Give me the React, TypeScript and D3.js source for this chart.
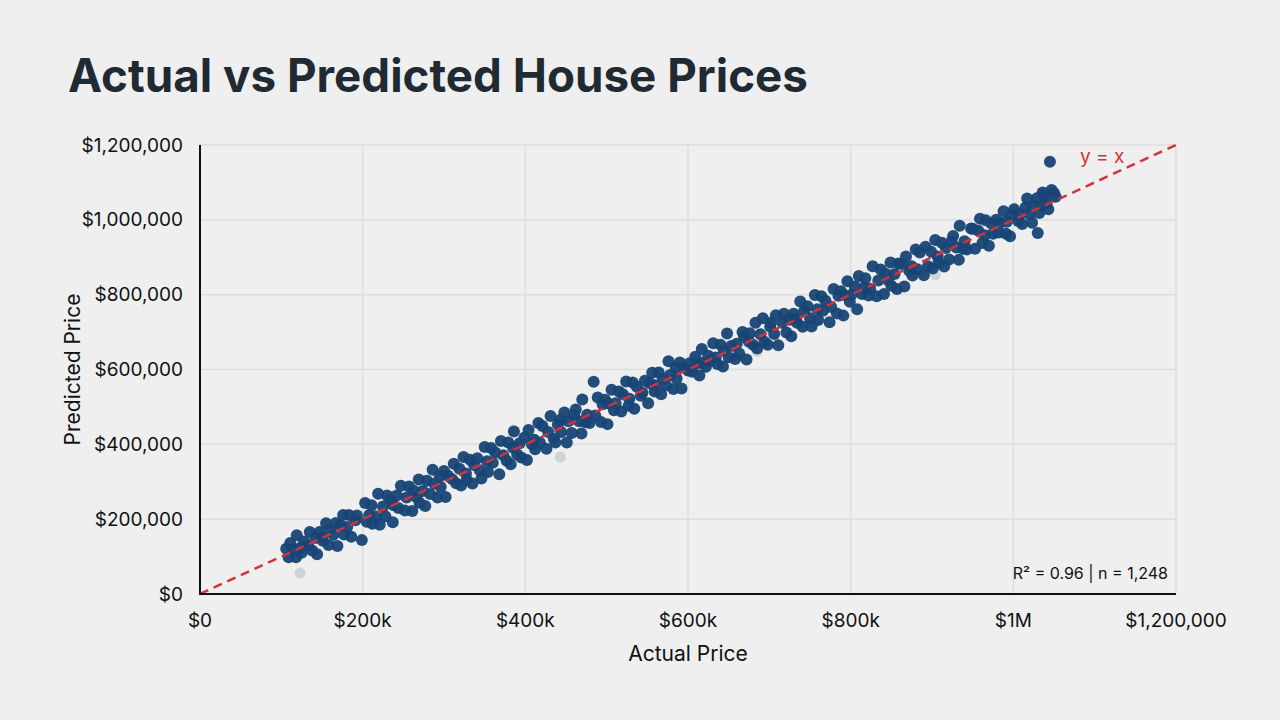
import * as d3 from "d3";

const W = 1280;
const H = 720;
const margin = { top: 145, right: 104, bottom: 126, left: 200 };

const xTicks = [0, 200000, 400000, 600000, 800000, 1000000, 1200000];
const xTickLabels = ["$0", "$200k", "$400k", "$600k", "$800k", "$1M", "$1,200,000"];
const yTicks = [0, 200000, 400000, 600000, 800000, 1000000, 1200000];
const yTickLabels = ["$0", "$200,000", "$400,000", "$600,000", "$800,000", "$1,000,000", "$1,200,000"];

// [actual, predicted] in $k
const houses1: [number, number][] = [
  [106, 121], [109, 98], [111, 136], [115, 120], [118, 98], [119, 157], [123, 123], [125, 110], [128, 140], [133, 129],
  [135, 166], [138, 116], [142, 150], [144, 106], [147, 166], [150, 152], [151, 142], [155, 189], [158, 131], [160, 174],
  [164, 158], [167, 190], [169, 128], [173, 183], [176, 211], [177, 159], [181, 179], [183, 211], [186, 153], [191, 197],
  [193, 210], [199, 144], [203, 243], [205, 193], [208, 211], [211, 237], [212, 188], [216, 208], [219, 268], [221, 185],
  [225, 234], [228, 208], [230, 263], [234, 252], [237, 192], [238, 237], [242, 263], [244, 230], [247, 289], [252, 223],
  [254, 258], [257, 287], [261, 222], [263, 276], [266, 259], [269, 306], [270, 244], [274, 275], [277, 235], [279, 303],
  [283, 267], [286, 332], [288, 295], [292, 258], [295, 315], [296, 286], [300, 329], [302, 259], [305, 316], [310, 307],
];
const houses2: [number, number][] = [
  [312, 348], [315, 296], [319, 335], [321, 290], [324, 366], [327, 322], [328, 305], [332, 359], [335, 295], [337, 345],
  [341, 363], [344, 331], [346, 309], [350, 393], [353, 355], [354, 326], [358, 390], [360, 351], [363, 378], [368, 320],
  [370, 409], [373, 371], [377, 356], [379, 405], [382, 347], [385, 391], [386, 434], [390, 373], [393, 403], [395, 365],
  [399, 418], [402, 358], [404, 438], [408, 400], [411, 412], [412, 387], [416, 457], [418, 404], [421, 449], [426, 388],
  [428, 433], [431, 476], [435, 415], [437, 405], [440, 453], [443, 466], [444, 433], [448, 485], [451, 405], [453, 462],
  [457, 430], [460, 478], [462, 493], [466, 462], [469, 429], [470, 520], [474, 459], [476, 479], [479, 457], [484, 567],
  [486, 477], [489, 525], [493, 460], [495, 507], [498, 519], [501, 454], [502, 509], [506, 546], [509, 491], [511, 510],
  [515, 541], [518, 488], [520, 534], [524, 568], [527, 503], [528, 522], [532, 565], [534, 495], [537, 554], [542, 530],
];
const houses3: [number, number][] = [
  [544, 538], [547, 570], [551, 510], [553, 563], [556, 591], [559, 541], [560, 558], [564, 592], [567, 534], [569, 575],
  [573, 557], [576, 622], [578, 585], [582, 548], [585, 605], [586, 576], [590, 619], [592, 549], [595, 606], [600, 597],
  [602, 617], [605, 594], [609, 634], [611, 616], [614, 584], [617, 655], [618, 618], [622, 607], [625, 637], [627, 623],
  [631, 670], [634, 632], [636, 615], [640, 666], [643, 608], [644, 650], [648, 696], [650, 633], [653, 663], [658, 628],
  [660, 669], [663, 643], [667, 700], [669, 687], [672, 627], [675, 674], [676, 697], [680, 666], [683, 725], [685, 656],
  [689, 694], [692, 737], [694, 674], [698, 666], [701, 714], [702, 725], [706, 695], [708, 745], [711, 665], [716, 725],
  [718, 749], [721, 699], [725, 733], [727, 689], [730, 749], [733, 735], [734, 725], [738, 782], [741, 714], [743, 757],
  [747, 769], [750, 737], [752, 715], [756, 799], [759, 761], [760, 732], [764, 796], [766, 757], [769, 784], [774, 726],
];
const houses4: [number, number][] = [
  [776, 767], [779, 815], [783, 750], [785, 797], [788, 809], [791, 744], [792, 799], [796, 836], [799, 781], [801, 800],
  [805, 822], [808, 761], [810, 850], [814, 802], [817, 820], [818, 844], [822, 798], [824, 816], [827, 876], [832, 796],
  [834, 838], [837, 867], [841, 802], [843, 856], [846, 839], [849, 886], [850, 824], [854, 855], [857, 815], [859, 883],
  [863, 882], [866, 822], [868, 902], [872, 864], [875, 876], [876, 851], [880, 921], [882, 868], [885, 913], [890, 852],
  [892, 928], [895, 876], [899, 915], [901, 870], [904, 946], [907, 902], [908, 885], [912, 939], [915, 875], [917, 925],
  [921, 894], [924, 942], [926, 957], [930, 926], [933, 893], [934, 984], [938, 923], [940, 943], [943, 921], [948, 977],
  [950, 976], [953, 923], [957, 971], [959, 1003], [962, 938], [965, 959], [966, 999], [970, 931], [973, 990], [975, 963],
  [979, 1000], [982, 966], [984, 992], [988, 1023], [991, 963], [992, 995], [996, 956], [998, 1012], [1001, 1028], [1006, 997],
  [1008, 1014], [1011, 989], [1015, 1033], [1017, 1057], [1020, 1015], [1023, 992], [1025, 1036], [1029, 1058], [1032, 1018],
  [1035, 1037], [1030, 965], [1038, 1065], [1041, 1045], [1045, 1155], [1047, 1080], [1050, 1072], [1052, 1062], [1043, 1028],
  [1036, 1073],
];
// faded outliers
const faded: [number, number][] = [[123, 56], [385, 438], [443, 366], [685, 648], [904, 853]];

const App = () => {
  const x = d3.scaleLinear().domain([0, 1200000]).range([margin.left, W - margin.right]);
  const y = d3.scaleLinear().domain([0, 1200000]).range([H - margin.bottom, margin.top]);
  const points = [...houses1, ...houses2, ...houses3, ...houses4];
  const font = "'Helvetica Neue', Inter, 'Liberation Sans', Arial, sans-serif";

  return (
    <svg width={W} height={H} style={{ position: "absolute", left: 0, top: 0 }} fontFamily={font}>
      <rect width={W} height={H} fill="#eeefee" />
      <text x={68} y={92} fontSize={46} fontWeight={700} fill="#1f2a33" textLength={740} lengthAdjust="spacingAndGlyphs"
        fontFamily="Inter, 'Open Sans', sans-serif">
        Actual vs Predicted House Prices
      </text>

      {/* grid */}
      {xTicks.map((t) => (
        <line key={"gx" + t} x1={x(t)} x2={x(t)} y1={y(1200000)} y2={y(0)} stroke="#dcdddc" strokeWidth={1.5} />
      ))}
      {yTicks.map((t) => (
        <line key={"gy" + t} x1={x(0)} x2={x(1200000)} y1={y(t)} y2={y(t)} stroke="#dcdddc" strokeWidth={1.5} />
      ))}

      {faded.map((d, i) => (
        <circle key={"f" + i} cx={x(d[0] * 1000)} cy={y(d[1] * 1000)} r={5.5} fill="#b9c2cc" opacity={0.6} />
      ))}
      {points.map((d, i) => (
        <circle key={i} cx={x(d[0] * 1000)} cy={y(d[1] * 1000)} r={6} fill="#174575" opacity={0.95} />
      ))}

      <line x1={x(0)} y1={y(0)} x2={x(1200000)} y2={y(1200000)} stroke="#d2323c" strokeWidth={2.5} strokeDasharray="9 6" />
      <text x={1080} y={163} fontSize={19} fill="#d2323c">y = x</text>

      {/* axes */}
      <line x1={x(0)} x2={x(0)} y1={y(1200000)} y2={y(0) + 1} stroke="#111" strokeWidth={2} />
      <line x1={x(0) - 1} x2={x(1200000)} y1={y(0)} y2={y(0)} stroke="#111" strokeWidth={2} />

      {yTicks.map((t, i) => (
        <text key={"yl" + t} x={183} y={y(t)} dy="0.35em" textAnchor="end" fontSize={19} fill="#111">
          {yTickLabels[i]}
        </text>
      ))}
      {xTicks.map((t, i) => (
        <text key={"xl" + t} x={x(t)} y={627} textAnchor="middle" fontSize={19} fill="#111">
          {xTickLabels[i]}
        </text>
      ))}

      <text x={688} y={661} textAnchor="middle" fontSize={21} fill="#111">Actual Price</text>
      <text transform={`translate(80,${y(600000)}) rotate(-90)`} textAnchor="middle" fontSize={21} fill="#111">
        Predicted Price
      </text>

      <text x={1168} y={579} textAnchor="end" fontSize={16} fill="#111">R² = 0.96 | n = 1,248</text>
    </svg>
  );
};

export default App;
